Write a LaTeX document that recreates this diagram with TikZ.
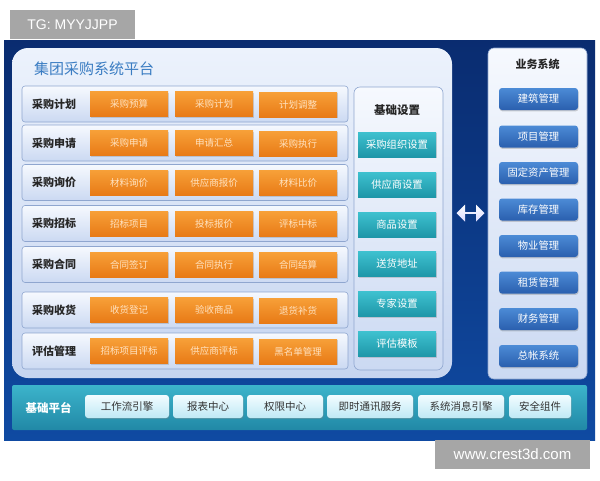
\documentclass[tikz,border=0pt]{standalone}
\usepackage{fontspec}
\setmainfont{Liberation Sans}
\newfontfamily\cjk{Noto Sans CJK SC}
\usetikzlibrary{shapes.arrows,shadows}
\definecolor{navytop}{HTML}{0A2C70}
\definecolor{navybot}{HTML}{0F4AA2}
\definecolor{titleblue}{HTML}{3A7CC2}
\definecolor{panelborder}{HTML}{8FA6CF}
\definecolor{maintop}{HTML}{ECF2FC}
\definecolor{mainbot}{HTML}{C6D5F0}
\definecolor{rowtop}{HTML}{F6F9FE}
\definecolor{rowbot}{HTML}{CBD9F2}
\definecolor{orgtop}{HTML}{F7A038}
\definecolor{orgbot}{HTML}{E87A16}
\definecolor{orgtxt}{HTML}{FFE2C0}
\definecolor{tealtop}{HTML}{3EC1CF}
\definecolor{tealbot}{HTML}{1E96A8}
\definecolor{bluetop}{HTML}{4C8BD6}
\definecolor{bluebot}{HTML}{2A5FAE}
\definecolor{bartop}{HTML}{3CB4CB}
\definecolor{barbot}{HTML}{2188A6}
\definecolor{bbtop}{HTML}{F2FCFF}
\definecolor{bbbot}{HTML}{BFE9F5}
\tikzset{
  base/.style={font=\cjk, inner sep=0pt, align=center},
  rowpanel/.style={base, rounded corners=3pt, draw=panelborder, line width=0.6pt,
    top color=rowtop, bottom color=rowbot, minimum width=326pt, minimum height=36pt},
  rowlabel/.style={base, font=\cjk\bfseries\fontsize{11}{12}\selectfont, text=black!85, anchor=west},
  orangebtn/.style={base, top color=orgtop, bottom color=orgbot,
    minimum width=78pt, minimum height=25pt, text=orgtxt, font=\cjk\fontsize{9.5}{11}\selectfont,
    drop shadow={shadow xshift=0.6pt, shadow yshift=-1.2pt, opacity=0.3}},
  tealbtn/.style={base, top color=tealtop, bottom color=tealbot,
    minimum width=78pt, minimum height=25pt, text=white, font=\cjk\fontsize{10.3}{12}\selectfont,
    drop shadow={shadow xshift=0.6pt, shadow yshift=-1.2pt, opacity=0.3}},
  bluebtn/.style={base, rounded corners=3pt, top color=bluetop, bottom color=bluebot,
    minimum width=79pt, minimum height=22pt, text=white, font=\cjk\fontsize{10.3}{12}\selectfont,
    drop shadow={shadow xshift=0.6pt, shadow yshift=-1.4pt, opacity=0.35}},
  sidepanel/.style={base, rounded corners=6pt, draw=panelborder, line width=0.6pt, top color=rowtop, bottom color=rowbot},
  headtxt/.style={base, font=\cjk\bfseries\fontsize{11.5}{13}\selectfont, text=black!85},
  basebtn/.style={base, rounded corners=3pt, top color=bbtop, bottom color=bbbot,
    minimum height=23pt, text=black!80, font=\cjk\fontsize{10.5}{12}\selectfont,
    drop shadow={shadow xshift=0.6pt, shadow yshift=-1.2pt, opacity=0.35}},
  greytag/.style={base, font=\fontsize{14}{16}\selectfont, fill=black!35, text=white},
}
\begin{document}
\begin{tikzpicture}[x=1pt,y=-1pt]
\useasboundingbox (0,0) rectangle (600,480);
\fill[white] (0,0) rectangle (600,480);
% dark background
\shade[top color=navytop, bottom color=navybot] (4,40) rectangle (595,440);
% grey tags
\node[greytag, minimum width=125pt, minimum height=29pt] (tg) at (72.5,24.5) {TG: MYYJJPP};
\node[greytag, font=\fontsize{15}{17}\selectfont, minimum width=155pt, minimum height=29pt] (wm) at (512.5,454.5) {www.crest3d.com};
% main panel
\shade[rounded corners=16pt, top color=maintop, bottom color=mainbot] (12,48) rectangle (452,378);
\node[base, anchor=west, text=titleblue, font=\cjk\fontsize{15}{17}\selectfont] (title) at (34,69) {集团采购系统平台};
% rows
\foreach \y/\lab/\a/\b/\c [count=\i] in {
  104/采购计划/采购预算/采购计划/计划调整,
  143/采购申请/采购申请/申请汇总/采购执行,
  182.5/采购询价/材料询价/供应商报价/材料比价,
  223.5/采购招标/招标项目/投标报价/评标中标,
  264.5/采购合同/合同签订/合同执行/合同结算,
  310/采购收货/收货登记/验收商品/退货补货,
  351/评估管理/招标项目评标/供应商评标/黑名单管理}{
  \node[rowpanel] (row\i) at (185,\y) {};
  \node[rowlabel] (lab\i) at (32,\y) {\lab};
  \node[orangebtn] (o\i a) at (129,\y) {\a};
  \node[orangebtn] (o\i b) at (214,\y) {\b};
  \node[orangebtn] (o\i c) at (298,\y+0.5) {\c};
}
% basic settings panel
\node[sidepanel, minimum width=89pt, minimum height=283pt] (setp) at (398.5,228.5) {};
\node[headtxt] (seth) at (397,110) {基础设置};
\foreach \y/\t [count=\i] in {144.5/采购组织设置,184.5/供应商设置,224.5/商品设置,264/送货地址,304/专家设置,344/评估模板}{
  \node[tealbtn] (s\i) at (397,\y) {\t};
}
% double arrow
\node[base, double arrow, double arrow head extend=2pt, shape border rotate=0,
  minimum width=17pt, minimum height=28pt, inner sep=0pt,
  top color=white, bottom color=blue!15!white] (arr) at (470.5,213) {};
% business system panel
\node[sidepanel, minimum width=99pt, minimum height=331pt] (bizp) at (537.5,213.5) {};
\node[headtxt, font=\cjk\bfseries\fontsize{11}{13}\selectfont] (bizh) at (537.5,64) {业务系统};
\foreach \y/\t [count=\i] in {99/建筑管理,136.5/项目管理,173/固定资产管理,209.5/库存管理,246/物业管理,282.5/租赁管理,319/财务管理,356/总帐系统}{
  \node[bluebtn] (b\i) at (538.5,\y) {\t};
}
% base platform bar
\shade[rounded corners=2pt, top color=bartop, bottom color=barbot] (12,385) rectangle (587,430);
\node[base, text=white, font=\cjk\bfseries\fontsize{11.5}{13}\selectfont] (pf) at (48.5,407.5) {基础平台};
\foreach \x/\w/\t [count=\i] in {127/84/工作流引擎,208/70/报表中心,285/76/权限中心,370/86/即时通讯服务,461/86/系统消息引擎,540/62/安全组件}{
  \node[basebtn, minimum width=\w pt] (p\i) at (\x,406.5) {\t};
}
\end{tikzpicture}
\end{document}
